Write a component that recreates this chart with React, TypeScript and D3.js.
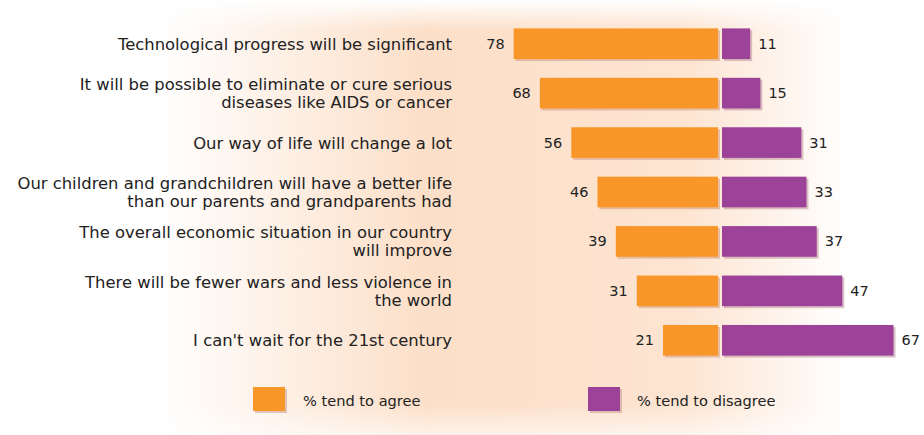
import React from "react";
import * as d3 from "d3";

const categories: string[][] = [
  ["Technological progress will be significant"],
  ["It will be possible to eliminate or cure serious", "diseases like AIDS or cancer"],
  ["Our way of life will change a lot"],
  ["Our children and grandchildren will have a better life", "than our parents and grandparents had"],
  ["The overall economic situation in our country", "will improve"],
  ["There will be fewer wars and less violence in", "the world"],
  ["I can't wait for the 21st century"],
];
const agree = [78, 68, 56, 46, 39, 31, 21];
const disagree = [11, 15, 31, 33, 37, 47, 67];
const seriesNames = ["% tend to agree", "% tend to disagree"];

const W = 924;
const H = 435;
const ORANGE = "#f8962a";
const PURPLE = "#9c4298";
const FONT = "'DejaVu Sans', sans-serif";

export default function App() {
  const center = 719;
  const gap = 3;
  const xL = d3.scaleLinear().domain([0, 100]).range([center - 1, center - 1 - 262]);
  const xR = d3.scaleLinear().domain([0, 100]).range([center + gap, center + gap + 256]);
  const y = d3
    .scaleBand<number>()
    .domain(d3.range(categories.length))
    .range([19, 365])
    .paddingInner(0.38)
    .paddingOuter(0.19);
  const bh = y.bandwidth();

  return (
    <svg
      width={W}
      height={H}
      style={{ position: "absolute", left: 0, top: 0, display: "block" }}
      viewBox={`0 0 ${W} ${H}`}
    >
      <defs>
        <linearGradient id="bgH" x1="0" x2="1" y1="0" y2="0">
          <stop offset="0" stopColor="#ffffff" />
          <stop offset="0.17" stopColor="#ffffff" />
          <stop offset="0.46" stopColor="#fcdfc8" />
          <stop offset="0.74" stopColor="#fde4d1" />
          <stop offset="0.92" stopColor="#ffffff" />
          <stop offset="1" stopColor="#ffffff" />
        </linearGradient>
        <linearGradient id="bgV" x1="0" x2="0" y1="0" y2="1">
          <stop offset="0" stopColor="#ffffff" stopOpacity="1" />
          <stop offset="0.07" stopColor="#ffffff" stopOpacity="0" />
          <stop offset="0.93" stopColor="#ffffff" stopOpacity="0" />
          <stop offset="1" stopColor="#ffffff" stopOpacity="0.6" />
        </linearGradient>
      </defs>
      <rect x={0} y={0} width={W} height={H} fill="url(#bgH)" />
      <rect x={0} y={0} width={W} height={H} fill="url(#bgV)" />

      {categories.map((lines, i) => {
        const cy = (y(i) as number) + bh / 2;
        const lh = 18;
        const y0 = cy - ((lines.length - 1) * lh) / 2 + 6;
        return (
          <text
            key={"c" + i}
            textAnchor="end"
            fontFamily={FONT}
            fontSize={16.4}
            fill="#222"
          >
            {lines.map((l, j) => (
              <tspan key={j} x={452} y={y0 + j * lh}>
                {l}
              </tspan>
            ))}
          </text>
        );
      })}

      {agree.map((v, i) => {
        const yy = y(i) as number;
        const x0 = xL(v);
        const w = xL(0) - xL(v);
        return (
          <g key={"a" + i}>
            <rect x={x0 + 2} y={yy + 2} width={w} height={bh} fill="#c98a6a" opacity={0.45} />
            <rect x={x0} y={yy} width={w} height={bh} fill={ORANGE} />
            <text
              x={x0 - 9}
              y={yy + bh / 2 + 5}
              textAnchor="end"
              fontFamily={FONT}
              fontSize={14.5}
              fill="#222"
            >
              {v}
            </text>
          </g>
        );
      })}

      {disagree.map((v, i) => {
        const yy = y(i) as number;
        const w = xR(v) - xR(0);
        return (
          <g key={"d" + i}>
            <rect x={xR(0) + 2} y={yy + 2} width={w} height={bh} fill="#b07a8a" opacity={0.45} />
            <rect x={xR(0)} y={yy} width={w} height={bh} fill={PURPLE} />
            <text
              x={xR(v) + 8}
              y={yy + bh / 2 + 5}
              textAnchor="start"
              fontFamily={FONT}
              fontSize={14.5}
              fill="#222"
            >
              {v}
            </text>
          </g>
        );
      })}

      {[
        { x: 253, color: ORANGE, label: seriesNames[0], tx: 303 },
        { x: 588, color: PURPLE, label: seriesNames[1], tx: 637 },
      ].map((d, i) => (
        <g key={"l" + i}>
          <rect x={d.x + 2} y={389} width={32} height={24} fill="#b08070" opacity={0.4} />
          <rect x={d.x} y={387} width={32} height={24} fill={d.color} />
          <text x={d.tx} y={406} fontFamily={FONT} fontSize={14.6} fill="#222">
            {d.label}
          </text>
        </g>
      ))}
    </svg>
  );
}
